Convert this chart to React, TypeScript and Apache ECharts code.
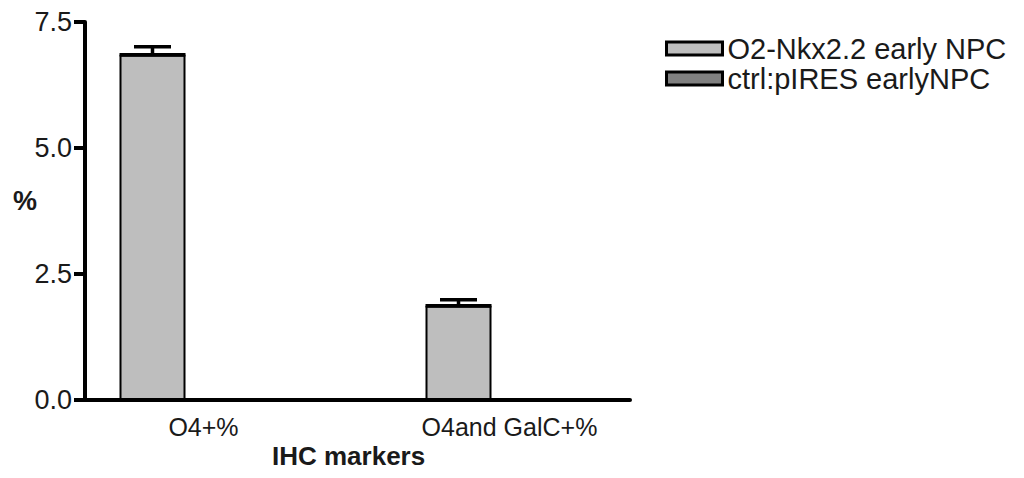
import React, { useEffect, useRef } from "react";
import * as echarts from "echarts";

const categories = ["O4+%", "O4and GalC+%"];
const seriesNames = ["O2-Nkx2.2 early NPC", "ctrl:pIRES earlyNPC"];
const nkxValues = [6.85, 1.87];
const nkxErrors = [0.16, 0.12];
const ctrlValues: (number | null)[] = [null, null];
const yTicks = [0, 2.5, 5.0, 7.5];

const FONT = "'Liberation Sans', Arial, sans-serif";
const BAR_W = 66;
const BAR_GAP_PX = 36;

export default function App() {
  const ref = useRef<HTMLDivElement>(null);
  useEffect(() => {
    if (!ref.current) return;
    const chart = echarts.init(ref.current, null, { renderer: "svg" });
    const barOffset = -(BAR_W + BAR_GAP_PX) / 2;
    const yMax = yTicks[yTicks.length - 1];
    const option: any = {
      animation: false,
      backgroundColor: "#ffffff",
      grid: [
        { left: 85, width: 545, top: 22, bottom: 78 },
        { left: 50.5, width: 612, top: 22, bottom: 78 },
      ],
      xAxis: [
        {
          type: "category",
          gridIndex: 0,
          data: categories,
          axisLine: { show: true, lineStyle: { color: "#000", width: 4 } },
          axisTick: { show: false },
          axisLabel: { show: false },
        },
        {
          type: "category",
          gridIndex: 1,
          data: categories,
          axisLine: { show: false },
          axisTick: { show: false },
          axisLabel: {
            show: true,
            fontSize: 25,
            fontFamily: FONT,
            color: "#1a1a1a",
            margin: 14,
          },
        },
      ],
      yAxis: [
        {
          type: "value",
          gridIndex: 0,
          min: 0,
          max: yMax,
          interval: 2.5,
          axisLine: { show: true, lineStyle: { color: "#000", width: 4 } },
          axisTick: { show: true, length: 11, lineStyle: { color: "#000", width: 4 } },
          axisLabel: {
            fontSize: 27,
            fontFamily: FONT,
            color: "#1a1a1a",
            margin: 13,
            formatter: (v: number) => v.toFixed(1),
          },
          splitLine: { show: false },
        },
        {
          type: "value",
          gridIndex: 1,
          min: 0,
          max: yMax,
          show: false,
          splitLine: { show: false },
        },
      ],
      legend: {
        orient: "vertical",
        left: 660,
        top: 29,
        itemWidth: 56,
        itemHeight: 13,
        itemGap: 1,
        icon: "rect",
        itemStyle: { borderColor: "#000", borderWidth: 3 },
        textStyle: { fontSize: 29, fontFamily: FONT, color: "#1a1a1a", lineHeight: 28 },
        data: seriesNames,
      },
      graphic: [
        {
          type: "text",
          left: 13,
          top: 187,
          style: { text: "%", fontSize: 27, fontWeight: "bold", fontFamily: FONT, fill: "#1a1a1a" },
        },
        {
          type: "text",
          left: 272,
          top: 443,
          style: { text: "IHC markers", fontSize: 26, fontWeight: "bold", fontFamily: FONT, fill: "#1a1a1a" },
        },
      ],
      series: [
        {
          name: seriesNames[0],
          type: "bar",
          xAxisIndex: 1,
          yAxisIndex: 1,
          barWidth: BAR_W,
          barGap: (BAR_GAP_PX / BAR_W) * 100 + "%",
          data: nkxValues,
          itemStyle: { color: "#bebebe", borderColor: "#000", borderWidth: 2 },
        },
        {
          name: seriesNames[1],
          type: "bar",
          xAxisIndex: 1,
          yAxisIndex: 1,
          barWidth: BAR_W,
          data: ctrlValues,
          itemStyle: { color: "#808080", borderColor: "#000", borderWidth: 2 },
        },
        {
          type: "custom",
          xAxisIndex: 1,
          yAxisIndex: 1,
          data: nkxValues.map((v, i) => [i, v, v + nkxErrors[i]]),
          z: 5,
          renderItem: (params: any, api: any) => {
            const base = api.coord([api.value(0), api.value(1)]);
            const top = api.coord([api.value(0), api.value(2)]);
            const cx = base[0] + barOffset;
            const half = 18.5;
            const style = { stroke: "#000", lineWidth: 3.5 };
            return {
              type: "group",
              children: [
                { type: "line", shape: { x1: cx, y1: base[1], x2: cx, y2: top[1] }, style },
                { type: "line", shape: { x1: cx - half, y1: top[1], x2: cx + half, y2: top[1] }, style },
                { type: "line", shape: { x1: cx - BAR_W / 2, y1: base[1], x2: cx + BAR_W / 2, y2: base[1] }, style },
              ],
            };
          },
        },
      ],
    };
    chart.setOption(option);
    return () => chart.dispose();
  }, []);
  return (
    <div
      ref={ref}
      style={{ position: "fixed", left: 0, top: 0, width: 1024, height: 478, background: "#fff" }}
    />
  );
}
